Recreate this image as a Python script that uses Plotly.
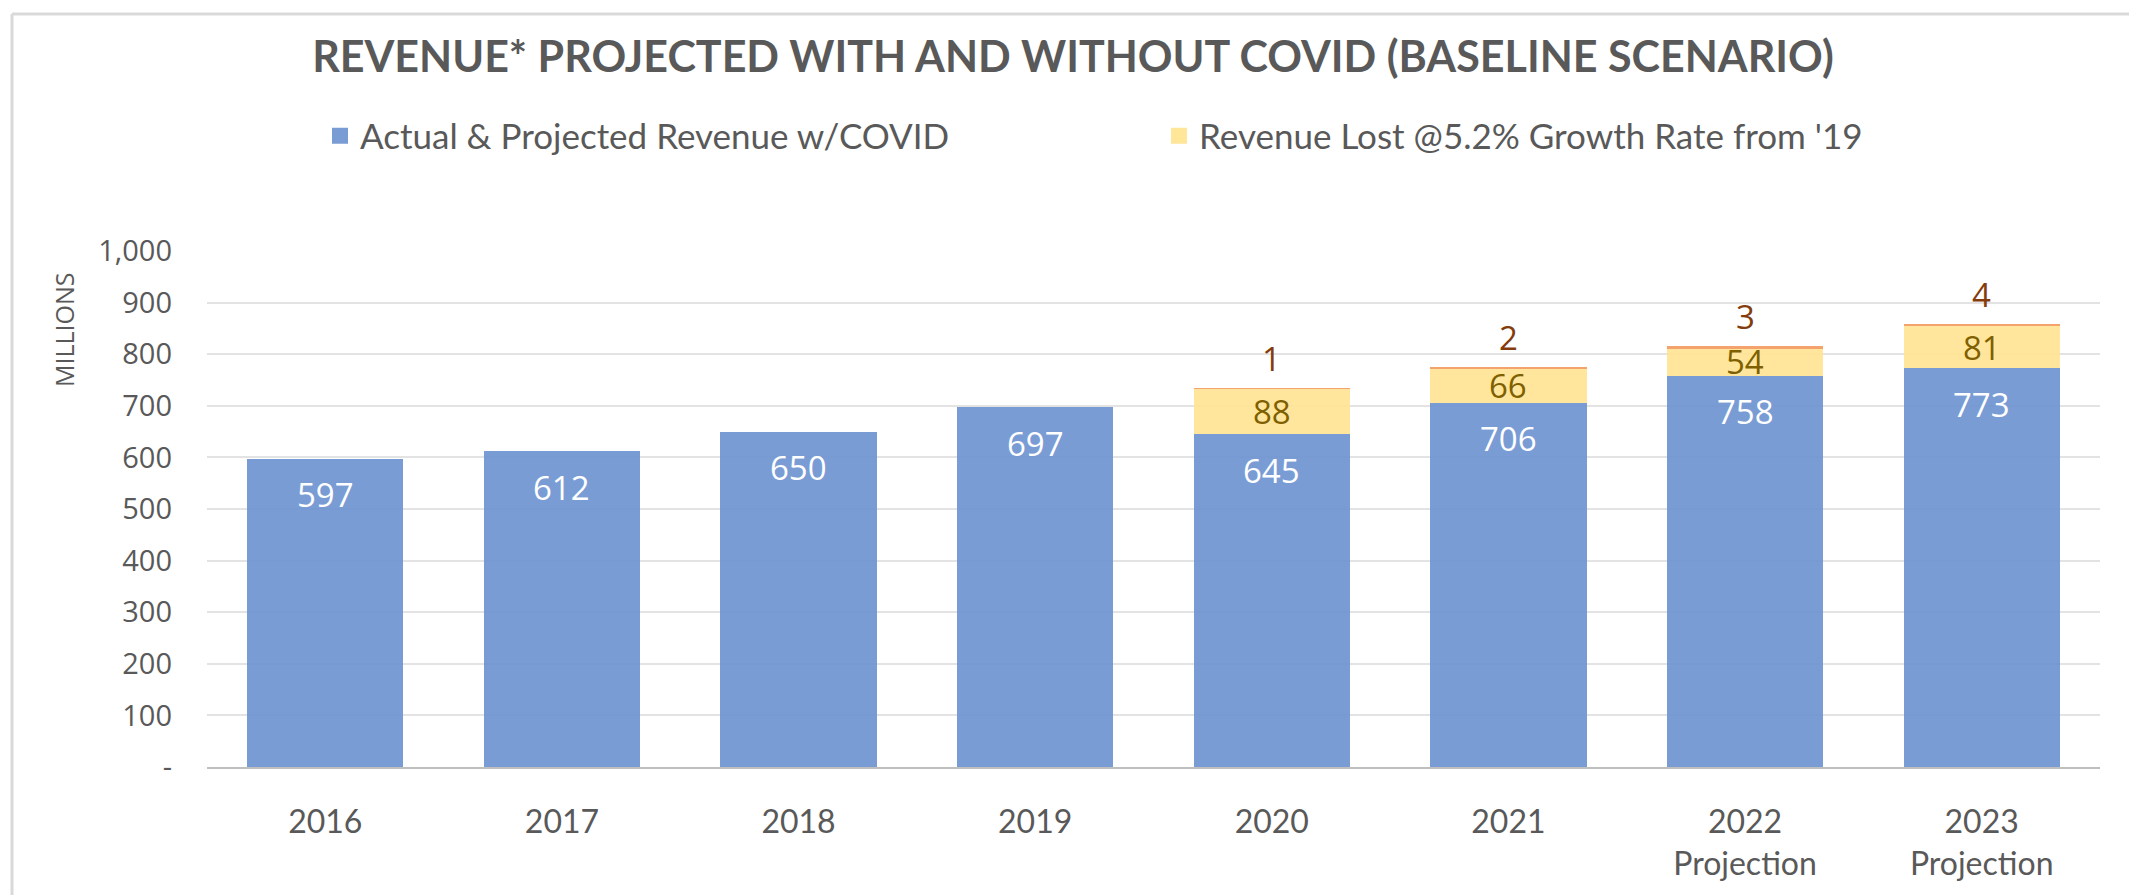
import plotly.graph_objects as go

years = ["2016", "2017", "2018", "2019", "2020", "2021", "2022", "2023"]
year_labels = ["2016", "2017", "2018", "2019", "2020", "2021",
               "2022<br>Projection", "2023<br>Projection"]
actual = [597, 612, 650, 697, 645, 706, 758, 773]
lost = [None, None, None, None, 88, 66, 54, 81]
extra = [None, None, None, None, 1, 2, 3, 4]
y_ticks = [0, 100, 200, 300, 400, 500, 600, 700, 800, 900, 1000]
y_tick_text = ["-", "100", "200", "300", "400", "500", "600", "700", "800", "900", "1,000"]
names = ["Actual & Projected Revenue w/COVID", "Revenue Lost @5.2% Growth Rate from '19"]

W, H = 2129, 895
L, R, T, B = 207, 29, 251, 128
GREY = "#595959"
LABEL_FONT = "Open Sans"
MAIN_FONT = "Lato"
BLUE = "rgba(112,149,210,0.93)"
YELLOW = "rgba(255,228,148,0.93)"
ORANGE = "#F4A26E"

fig = go.Figure()
fig.add_trace(go.Bar(x=years, y=actual, name=names[0], showlegend=False,
                     marker=dict(color=BLUE, line=dict(width=0))))
fig.add_trace(go.Bar(x=years, y=lost, name=names[1], showlegend=False,
                     marker=dict(color=YELLOW, line=dict(width=0))))
fig.add_trace(go.Bar(x=years, y=extra, name="diff", showlegend=False,
                     marker=dict(color=ORANGE, line=dict(width=0))))
# legend entries
for nm, col in zip(names, ["#7A9CD5", "#FFE699"]):
    fig.add_trace(go.Scatter(x=[None], y=[None], mode="markers", name=nm,
                             marker=dict(symbol="square", size=16, color=col)))

# data labels (x given as category index)
for i, yr in enumerate(years):
    fig.add_annotation(x=i, y=actual[i], text=str(actual[i]), showarrow=False,
                       yanchor="middle", yshift=-36,
                       font=dict(family=LABEL_FONT, size=33, color="white"))
    if lost[i] is not None:
        fig.add_annotation(x=i, y=actual[i] + lost[i] / 2, text=str(lost[i]),
                           showarrow=False, yanchor="middle",
                           font=dict(family=LABEL_FONT, size=33, color="#7F6000"))
    if extra[i] is not None:
        fig.add_annotation(x=i, y=actual[i] + lost[i] + extra[i], text=str(extra[i]),
                           showarrow=False, yanchor="middle", yshift=30,
                           font=dict(family=LABEL_FONT, size=33, color="#843C0C"))

fig.update_layout(
    width=W, height=H,
    barmode="stack", bargap=0.34,
    plot_bgcolor="white", paper_bgcolor="white",
    margin=dict(l=L, r=R, t=T, b=B),
    title=dict(
        text="<b>REVENUE* PROJECTED WITH AND WITHOUT COVID (BASELINE SCENARIO)</b>",
        x=1073 / W, xanchor="center", xref="container",
        y=1 - 57 / H, yanchor="middle", yref="container",
        font=dict(family=MAIN_FONT, size=43, color=GREY),
    ),
    legend=dict(
        orientation="h", x=320 / W, xanchor="left", xref="container",
        y=1 - 136 / H, yanchor="middle", yref="container",
        entrywidth=794, entrywidthmode="pixels",
        font=dict(family=MAIN_FONT, size=35, color=GREY),
        traceorder="normal", bgcolor="rgba(0,0,0,0)",
    ),
    showlegend=True,
)
fig.update_xaxes(
    type="category",
    tickvals=years, ticktext=year_labels,
    showgrid=False, showline=True, linecolor="#BFBFBF", linewidth=2,
    ticks="", ticklabelstandoff=26,
    tickfont=dict(family=MAIN_FONT, size=32, color=GREY),
    range=[-0.5, 7.5],
)
fig.update_yaxes(
    range=[0, 1000], tickvals=y_ticks, ticktext=y_tick_text,
    showgrid=True, gridcolor="#E3E3E3", gridwidth=1.5,
    zeroline=False, showline=False, ticks="", ticklabelstandoff=34,
    tickfont=dict(family=LABEL_FONT, size=29, color=GREY),
)
fig.add_annotation(
    text="MILLIONS", textangle=-90, showarrow=False,
    xref="paper", yref="paper",
    x=-(L - 64) / (W - L - R), y=(H - B - 330) / (H - T - B),
    xanchor="center", yanchor="middle",
    font=dict(family=LABEL_FONT, size=25, color=GREY),
)
# chart frame (left and top edges)
fig.add_shape(type="line", xref="paper", yref="paper",
              x0=-(L - 12) / (W - L - R), x1=-(L - 12) / (W - L - R),
              y0=-B / (H - T - B), y1=(H - B - 14) / (H - T - B),
              line=dict(color="#D9D9D9", width=3))
fig.add_shape(type="line", xref="paper", yref="paper",
              x0=-(L - 12) / (W - L - R), x1=(W - L) / (W - L - R),
              y0=(H - B - 14) / (H - T - B), y1=(H - B - 14) / (H - T - B),
              line=dict(color="#D9D9D9", width=3))

fig.write_html("out.html", config={"displayModeBar": False},
               post_script="document.body.style.margin='0px';")
